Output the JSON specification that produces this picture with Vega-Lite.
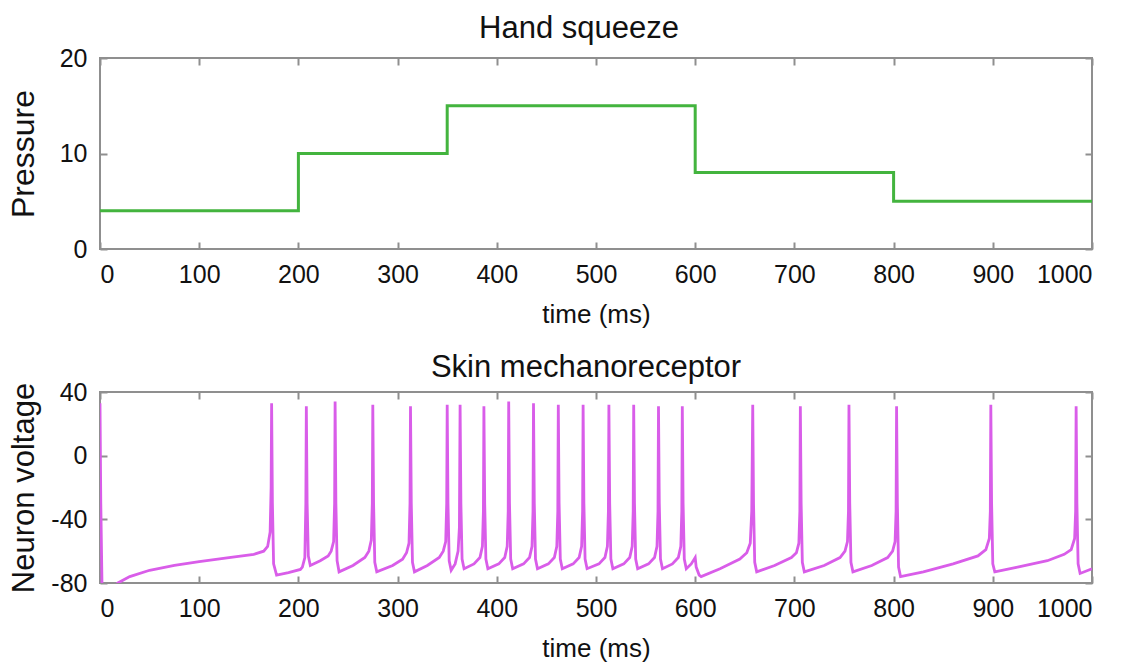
{
  "$schema": "https://vega.github.io/schema/vega-lite/v6.json",
  "padding": {"left": 5, "top": 12, "right": 5, "bottom": 0},
  "spacing": 23,
  "config": {
    "font": "Liberation Sans",
    "view": {"stroke": "#8f8f8f", "strokeWidth": 2},
    "title": {"fontSize": 31, "fontWeight": "normal", "color": "#111111", "offset": 1, "font": "Liberation Sans"},
    "axis": {
      "grid": false,
      "domain": false,
      "tickSize": -7,
      "tickColor": "#8f8f8f",
      "tickWidth": 2,
      "labelFontSize": 25,
      "labelColor": "#111111",
      "labelPadding": 20,
      "labelExpr": "datum.value + ''",
      "titleFontSize": 31,
      "titleFontWeight": "normal",
      "titleColor": "#111111",
      "labelFont": "Liberation Sans",
      "titleFont": "Liberation Sans"
    }
  },
  "datasets": {
    "pressure": [
      {"t": 0, "p": 4}, {"t": 200, "p": 10}, {"t": 350, "p": 15}, {"t": 600, "p": 8}, {"t": 800, "p": 5}, {"t": 1000, "p": 5}
    ],
    "voltage": [
      {"t": 0, "v": 33}, {"t": 0.8, "v": -30}, {"t": 2, "v": -80}, {"t": 5, "v": -86}, {"t": 10, "v": -84}, {"t": 18, "v": -80},
      {"t": 30, "v": -76}, {"t": 50, "v": -72}, {"t": 75, "v": -69}, {"t": 100, "v": -66.5}, {"t": 130, "v": -64}, {"t": 155, "v": -62},
      {"t": 165, "v": -60}, {"t": 169, "v": -57}, {"t": 171.5, "v": -48}, {"t": 172.5, "v": -20}, {"t": 173, "v": 33}, {"t": 173.8, "v": -30},
      {"t": 175, "v": -68}, {"t": 178, "v": -75},
      {"t": 190, "v": -73.5}, {"t": 202, "v": -71.5}, {"t": 204, "v": -70}, {"t": 206.5, "v": -64}, {"t": 207.5, "v": -30}, {"t": 208, "v": 31},
      {"t": 208.8, "v": -30}, {"t": 210, "v": -63}, {"t": 212, "v": -69},
      {"t": 222, "v": -66}, {"t": 230, "v": -63}, {"t": 233, "v": -60}, {"t": 235.5, "v": -54}, {"t": 236.5, "v": -30}, {"t": 237, "v": 34},
      {"t": 237.8, "v": -30}, {"t": 239, "v": -66}, {"t": 241, "v": -73},
      {"t": 255, "v": -69}, {"t": 267, "v": -64}, {"t": 271, "v": -60}, {"t": 273.5, "v": -53}, {"t": 274.5, "v": -30}, {"t": 275, "v": 32},
      {"t": 275.8, "v": -30}, {"t": 277, "v": -67}, {"t": 279, "v": -73},
      {"t": 295, "v": -69}, {"t": 305, "v": -65}, {"t": 309, "v": -61}, {"t": 311.5, "v": -55}, {"t": 312.5, "v": -30}, {"t": 313, "v": 31},
      {"t": 313.8, "v": -30}, {"t": 315, "v": -67}, {"t": 317, "v": -73},
      {"t": 330, "v": -69}, {"t": 342, "v": -64}, {"t": 346, "v": -60}, {"t": 348.5, "v": -54}, {"t": 349.5, "v": -30}, {"t": 350, "v": 32},
      {"t": 350.8, "v": -30}, {"t": 352, "v": -66}, {"t": 354, "v": -72},
      {"t": 358, "v": -68}, {"t": 361, "v": -60}, {"t": 362.3, "v": -45}, {"t": 363, "v": 32}, {"t": 363.8, "v": -30}, {"t": 365, "v": -65}, {"t": 367, "v": -71},
      {"t": 377, "v": -68}, {"t": 383, "v": -64}, {"t": 385.5, "v": -57}, {"t": 386.5, "v": -35}, {"t": 387, "v": 31}, {"t": 387.8, "v": -30}, {"t": 389, "v": -65}, {"t": 391, "v": -71},
      {"t": 402, "v": -68}, {"t": 408, "v": -64}, {"t": 410.5, "v": -57}, {"t": 411.5, "v": -35}, {"t": 412, "v": 34}, {"t": 412.8, "v": -30}, {"t": 414, "v": -65}, {"t": 416, "v": -71},
      {"t": 427, "v": -68}, {"t": 433, "v": -64}, {"t": 435.5, "v": -57}, {"t": 436.5, "v": -35}, {"t": 437, "v": 33}, {"t": 437.8, "v": -30}, {"t": 439, "v": -65}, {"t": 441, "v": -71},
      {"t": 452, "v": -68}, {"t": 458, "v": -64}, {"t": 460.5, "v": -57}, {"t": 461.5, "v": -35}, {"t": 462, "v": 32}, {"t": 462.8, "v": -30}, {"t": 464, "v": -65}, {"t": 466, "v": -71},
      {"t": 477, "v": -68}, {"t": 483, "v": -64}, {"t": 485.5, "v": -57}, {"t": 486.5, "v": -35}, {"t": 487, "v": 32}, {"t": 487.8, "v": -30}, {"t": 489, "v": -65}, {"t": 491, "v": -71},
      {"t": 503, "v": -68}, {"t": 509, "v": -64}, {"t": 511.5, "v": -57}, {"t": 512.5, "v": -35}, {"t": 513, "v": 32}, {"t": 513.8, "v": -30}, {"t": 515, "v": -65}, {"t": 517, "v": -71},
      {"t": 528, "v": -68}, {"t": 534, "v": -64}, {"t": 536.5, "v": -57}, {"t": 537.5, "v": -35}, {"t": 538, "v": 32}, {"t": 538.8, "v": -30}, {"t": 540, "v": -65}, {"t": 542, "v": -71},
      {"t": 553, "v": -68}, {"t": 559, "v": -64}, {"t": 561.5, "v": -57}, {"t": 562.5, "v": -35}, {"t": 563, "v": 31}, {"t": 563.8, "v": -30}, {"t": 565, "v": -65}, {"t": 567, "v": -71},
      {"t": 577, "v": -68}, {"t": 583, "v": -64}, {"t": 585.5, "v": -57}, {"t": 586.5, "v": -35}, {"t": 587, "v": 31}, {"t": 587.8, "v": -30}, {"t": 589, "v": -65},
      {"t": 591, "v": -71}, {"t": 596, "v": -68}, {"t": 599, "v": -65}, {"t": 600, "v": -64}, {"t": 601, "v": -70}, {"t": 604, "v": -75}, {"t": 606, "v": -76},
      {"t": 625, "v": -71}, {"t": 645, "v": -65}, {"t": 652, "v": -61}, {"t": 655.5, "v": -55}, {"t": 657, "v": -35}, {"t": 658, "v": 32}, {"t": 658.8, "v": -30}, {"t": 660, "v": -67}, {"t": 662, "v": -73},
      {"t": 680, "v": -69}, {"t": 697, "v": -64}, {"t": 702, "v": -61}, {"t": 704.5, "v": -55}, {"t": 705.5, "v": -35}, {"t": 706, "v": 31}, {"t": 706.8, "v": -30}, {"t": 708, "v": -67}, {"t": 710, "v": -73},
      {"t": 730, "v": -69}, {"t": 746, "v": -64}, {"t": 751, "v": -60}, {"t": 753.5, "v": -54}, {"t": 754.5, "v": -35}, {"t": 755, "v": 32}, {"t": 755.8, "v": -30}, {"t": 757, "v": -67}, {"t": 759, "v": -73},
      {"t": 778, "v": -69}, {"t": 794, "v": -64}, {"t": 799, "v": -60}, {"t": 801.5, "v": -54}, {"t": 802.5, "v": -35}, {"t": 803, "v": 31}, {"t": 803.8, "v": -30}, {"t": 805, "v": -70}, {"t": 807, "v": -76},
      {"t": 830, "v": -73}, {"t": 860, "v": -68}, {"t": 885, "v": -63}, {"t": 893, "v": -59}, {"t": 896.5, "v": -52}, {"t": 897.5, "v": -35}, {"t": 898, "v": 32}, {"t": 898.8, "v": -30}, {"t": 900, "v": -68}, {"t": 902, "v": -73},
      {"t": 925, "v": -70}, {"t": 955, "v": -66}, {"t": 972, "v": -62}, {"t": 979, "v": -59}, {"t": 982.5, "v": -52}, {"t": 983.5, "v": -35}, {"t": 984, "v": 31}, {"t": 984.8, "v": -30}, {"t": 986, "v": -68}, {"t": 988, "v": -74},
      {"t": 1000, "v": -71}
    ]
  },
  "vconcat": [
    {
      "title": {"text": "Hand squeeze", "dx": -17},
      "width": 992,
      "height": 191,
      "data": {"name": "pressure"},
      "layer": [
        {
          "mark": {"type": "line", "interpolate": "step-after", "color": "#43b43e", "strokeWidth": 3, "clip": true},
          "encoding": {
            "x": {"field": "t", "type": "quantitative", "scale": {"domain": [0, 1000], "nice": false}, "axis": {"title": "time (ms)", "titleFontSize": 26, "values": [0,100,200,300,400,500,600,700,800,900,1000], "titlePadding": 14}},
            "y": {"field": "p", "type": "quantitative", "scale": {"domain": [0, 20], "nice": false}, "axis": {"title": "Pressure", "titleFontSize": 32, "values": [0, 10, 20], "titleX": -67, "titleBaseline": "alphabetic"}}
          }
        },
        {
          "mark": {"type": "line", "opacity": 0},
          "encoding": {
            "x": {"field": "t", "type": "quantitative", "axis": {"orient": "top", "labels": false, "title": null, "values": [0,100,200,300,400,500,600,700,800,900,1000]}},
            "y": {"field": "p", "type": "quantitative", "axis": {"orient": "right", "labels": false, "title": null, "values": [0, 10, 20]}}
          }
        }
      ],
      "resolve": {"axis": {"x": "independent", "y": "independent"}}
    },
    {
      "title": {"text": "Skin mechanoreceptor", "dx": -10, "offset": -4},
      "width": 992,
      "height": 191,
      "data": {"name": "voltage"},
      "layer": [
        {
          "mark": {"type": "line", "color": "#d95de9", "strokeWidth": 2.8, "clip": true},
          "encoding": {
            "x": {"field": "t", "type": "quantitative", "scale": {"domain": [0, 1000], "nice": false}, "axis": {"title": "time (ms)", "titleFontSize": 26, "values": [0,100,200,300,400,500,600,700,800,900,1000], "titlePadding": 14}},
            "y": {"field": "v", "type": "quantitative", "scale": {"domain": [-80, 40], "nice": false}, "axis": {"title": "Neuron voltage", "values": [-80, -40, 0, 40], "titleX": -67, "titleBaseline": "alphabetic"}}
          }
        },
        {
          "mark": {"type": "line", "opacity": 0},
          "encoding": {
            "x": {"field": "t", "type": "quantitative", "axis": {"orient": "top", "labels": false, "title": null, "values": [0,100,200,300,400,500,600,700,800,900,1000]}},
            "y": {"field": "v", "type": "quantitative", "axis": {"orient": "right", "labels": false, "title": null, "values": [-80, -40, 0, 40]}}
          }
        }
      ],
      "resolve": {"axis": {"x": "independent", "y": "independent"}}
    }
  ]
}
